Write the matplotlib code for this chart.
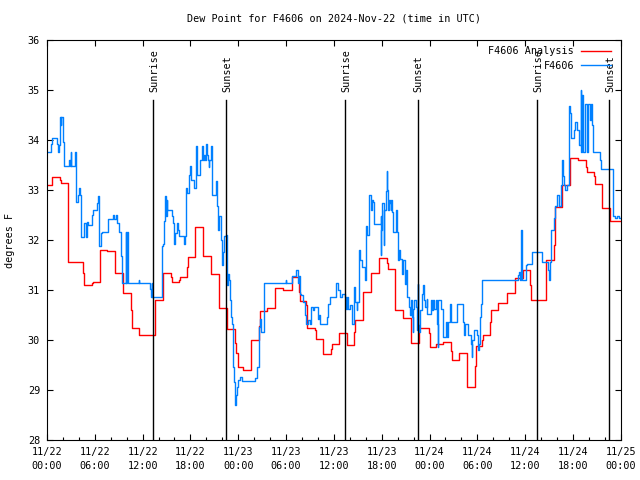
import matplotlib
matplotlib.use('Agg')
import matplotlib.pyplot as plt
import numpy as np

# hours since 2024-11-22 00:00 UTC
analysis_t = [0.0, 0.67, 1.63, 1.72, 2.6, 2.67, 4.56, 4.68, 5.6, 5.73, 6.6, 6.68, 7.57, 8.57, 9.54,
              10.58, 10.66, 11.58, 13.55, 14.5, 15.6, 15.7, 16.6, 16.7, 17.6, 17.7, 18.55, 18.6,
              19.55, 19.6, 20.55, 20.6, 21.55, 21.6, 22.55, 22.6, 23.55, 23.6, 23.75, 24.0, 24.6,
              25.55, 25.6, 26.65, 26.7, 27.65, 28.6, 29.6, 30.74, 31.66, 31.75, 32.5, 32.58, 33.63,
              33.71, 34.67, 35.64, 35.8, 36.68, 37.6, 38.56, 38.65, 39.61, 40.66, 41.65, 42.7, 42.8,
              43.7, 44.7, 45.7, 46.7, 47.9, 48.0, 48.85, 49.7, 50.75, 50.8, 51.65, 52.7, 52.75,
              53.66, 53.78, 54.62, 54.7, 55.62, 55.71, 56.63, 57.67, 58.72, 59.68, 60.6, 60.73,
              62.61, 63.61, 63.7, 64.61, 65.62, 66.6, 67.6, 67.8, 68.7, 68.8, 69.7, 70.7, 71.9]
analysis_v = [33.09, 33.25, 33.2, 33.13, 32.35, 31.57, 31.35, 31.1, 31.15, 31.17, 31.51, 31.81, 31.79,
              31.35, 30.95, 30.6, 30.25, 30.11, 30.81, 31.35, 31.27, 31.17, 31.2, 31.27, 31.47,
              31.66, 31.95, 32.25, 31.95, 31.68, 31.5, 31.32, 30.98, 30.65, 30.43, 30.23, 30.14,
              29.94, 29.74, 29.47, 29.41, 29.69, 30.0, 30.28, 30.58, 30.65, 31.05, 31.01, 31.27,
              30.97, 30.79, 30.7, 30.25, 30.2, 30.03, 29.73, 29.83, 29.93, 30.15, 29.9, 30.17,
              30.4, 30.97, 31.35, 31.65, 31.55, 31.42, 30.61, 30.45, 29.95, 30.25, 30.15, 29.86,
              29.93, 29.97, 29.79, 29.61, 29.75, 29.43, 29.07, 29.48, 29.88, 30.0, 30.11, 30.37,
              30.61, 30.75, 30.95, 31.25, 31.4, 31.1, 30.81, 31.6, 31.9, 32.65, 33.1, 33.64, 33.6,
              33.45, 33.36, 33.27, 33.11, 32.64, 32.37, 32.37]

station_t = [0.0, 0.46, 0.59, 1.21, 1.34, 1.5, 1.63, 1.7, 1.8, 1.97, 2.05, 2.13, 2.8, 2.85, 2.97, 3.05,
             3.51, 3.64, 3.93, 4.06, 4.15, 4.22, 4.31, 4.69, 4.89, 4.98, 5.1, 5.6, 5.81, 6.23, 6.44,
             6.48, 6.73, 6.9, 7.65, 8.3, 8.4, 8.6, 8.74, 9.03, 9.28, 9.41, 9.91, 9.95, 10.05, 10.16,
             11.54, 11.6, 12.92, 13.05, 13.13, 13.2, 14.39, 14.5, 14.72, 14.85, 14.93, 15.0, 15.1,
             15.72, 15.85, 15.98, 16.1, 16.27, 16.4, 16.6, 17.23, 17.36, 17.44, 17.52, 17.86, 17.94,
             18.03, 18.44, 18.65, 18.78, 18.86, 19.24, 19.41, 19.53, 19.7, 19.82, 19.95, 20.08,
             20.2, 20.28, 20.37, 20.58, 20.66, 20.74, 21.2, 21.29, 21.41, 21.5, 21.62, 21.87, 22.0,
             22.12, 22.25, 22.42, 22.54, 22.75, 22.84, 22.96, 23.09, 23.21, 23.38, 23.51, 23.63,
             23.71, 23.88, 24.01, 24.22, 24.47, 26.14, 26.39, 26.56, 26.65, 26.73, 26.85, 27.23,
             30.0, 30.05, 30.78, 31.2, 31.53, 31.66, 31.74, 31.9, 32.16, 32.41, 32.5, 32.79, 33.0,
             33.12, 33.4, 33.5, 34.04, 34.17, 34.29, 35.09, 35.3, 35.51, 36.26, 36.55, 36.76,
             36.97, 37.4, 37.52, 37.68, 37.81, 38.02, 38.23, 38.56, 38.69, 38.86, 38.94, 39.11,
             39.3, 39.48, 39.9, 40.03, 40.2, 40.4, 40.65, 40.74, 40.95, 41.03, 41.87, 41.91, 41.97,
             42.08, 42.29, 42.33, 42.5, 42.62, 42.7, 42.83, 42.96, 43.04, 43.12, 43.21, 43.29,
             43.37, 43.75, 43.88, 44.0, 44.13, 44.29, 44.5, 44.63, 44.88, 44.96, 45.05, 45.13,
             45.46, 45.55, 45.63, 45.76, 45.88, 45.97, 46.09, 46.3, 46.39, 46.51, 46.59, 46.72,
             46.8, 47.01, 47.22, 47.35, 47.43, 47.64, 47.72, 48.14, 48.31, 48.48, 48.6, 48.77,
             48.89, 49.02, 49.1, 49.44, 49.65, 49.73, 50.07, 50.23, 50.32, 50.57, 50.69, 51.49,
             52.16, 52.32, 52.45, 52.83, 53.16, 53.29, 53.37, 53.58, 54.0, 54.12, 54.25, 54.33,
             54.46, 54.58, 54.75, 58.85, 59.14, 59.26, 59.35, 59.43, 59.52, 59.64, 60.1, 60.2,
             60.81, 62.15, 62.82, 62.99, 63.11, 63.2, 63.61, 63.74, 64.03, 64.2, 64.28, 64.45,
             64.58, 64.7, 64.79, 64.91, 65.04, 65.2, 65.45, 65.54, 65.62, 65.71, 65.75, 66.17,
             66.25, 66.54, 66.71, 66.79, 66.96, 67.04, 67.13, 67.21, 67.3, 67.55, 67.8, 67.92,
             68.13, 68.26, 68.42, 68.55, 69.39, 69.47, 70.98, 71.27, 71.48, 71.8, 72.0]
station_v = [33.76, 33.91, 34.03, 33.91, 33.76, 33.9, 34.45, 34.3, 34.45, 34.2, 33.95, 33.48, 33.6,
             33.48, 33.75, 33.48, 33.75, 32.75, 32.9, 33.03, 32.9, 32.53, 32.05, 32.33, 32.05,
             32.35, 32.3, 32.5, 32.6, 32.73, 32.88, 31.88, 32.13, 32.15, 32.42, 32.5, 32.42, 32.5,
             32.33, 32.15, 31.69, 31.15, 32.15, 31.15, 32.15, 31.15, 31.2, 31.15, 31.02, 30.87,
             31.15, 30.87, 31.89, 31.92, 32.37, 32.87, 32.47, 32.8, 32.59, 32.47, 32.33, 31.93,
             32.13, 32.33, 32.2, 32.07, 31.93, 32.07, 33.03, 32.93, 33.29, 33.47, 33.2, 33.03,
             33.87, 33.47, 33.3, 33.59, 33.87, 33.59, 33.7, 33.59, 33.92, 33.7, 33.59, 33.45,
             33.59, 33.87, 33.4, 32.9, 33.17, 32.68, 32.47, 32.2, 32.47, 32.0, 31.5, 31.77, 32.07,
             32.1, 31.1, 31.33, 31.2, 30.8, 30.47, 30.33, 29.47, 29.17, 28.7, 28.9, 29.07, 29.2,
             29.27, 29.18, 29.25, 29.47, 30.0, 30.27, 30.43, 30.17, 31.15, 31.2, 31.15, 31.28,
             31.41, 31.15, 31.28, 30.93, 30.9, 30.77, 30.5, 30.33, 30.4, 30.33, 30.67, 30.6, 30.67,
             30.42, 30.5, 30.33, 30.47, 30.73, 30.87, 31.15, 31.0, 30.87, 30.93, 30.87, 30.63,
             30.87, 30.63, 30.7, 30.33, 31.07, 30.77, 30.6, 30.77, 31.8, 31.6, 31.47, 31.2, 32.27,
             32.1, 32.9, 32.6, 32.8, 32.75, 32.32, 32.47, 31.7, 32.2, 32.73, 31.9, 32.6, 32.97,
             33.37, 33.0, 32.6, 32.8, 32.73, 32.6, 32.8, 32.55, 32.15, 32.6, 32.15, 31.6, 31.8,
             31.63, 31.33, 31.6, 31.6, 31.13, 31.4, 30.87, 30.67, 30.5, 30.8, 30.47, 30.17, 30.63,
             30.8, 30.67, 30.2, 31.13, 30.3, 30.17, 30.6, 30.93, 31.1, 30.8, 30.67, 30.83, 30.53,
             30.8, 30.6, 30.8, 30.62, 30.8, 30.33, 29.87, 30.8, 30.62, 30.33, 30.07, 30.37, 30.07,
             30.37, 30.73, 30.37, 30.73, 30.37, 30.1, 30.33, 30.1, 29.93, 29.67, 30.0, 30.2, 30.1,
             29.8, 29.93, 30.47, 30.73, 31.2, 31.21, 31.21, 31.3, 31.36, 31.21, 31.73, 32.2, 31.21,
             31.5, 31.52, 31.77, 31.57, 31.4, 31.2, 31.57, 32.2, 32.43, 32.67, 32.9, 32.9, 32.67,
             33.1, 33.6, 33.47, 33.27, 33.1, 33.0, 33.1, 34.33, 34.67, 34.53, 34.33, 34.03, 34.2,
             34.35, 34.2, 34.03, 33.9, 35.0, 33.75, 34.9, 34.75, 33.75, 34.72, 33.75, 34.72, 34.4,
             34.72, 34.3, 33.75, 33.6, 33.41, 32.47, 32.43, 32.47, 32.43, 32.43]

sun_t = [13.35, 22.5, 37.45, 46.5, 61.5, 70.55]
sun_lbl = ['Sunrise', 'Sunset', 'Sunrise', 'Sunset', 'Sunrise', 'Sunset']

xticks = np.arange(0, 73, 6)
xlabels = ['11/22\n00:00', '11/22\n06:00', '11/22\n12:00', '11/22\n18:00',
           '11/23\n00:00', '11/23\n06:00', '11/23\n12:00', '11/23\n18:00',
           '11/24\n00:00', '11/24\n06:00', '11/24\n12:00', '11/24\n18:00',
           '11/25\n00:00']

plt.rcParams['font.family'] = 'DejaVu Sans Mono'
plt.rcParams['font.size'] = 7.3

fig = plt.figure(figsize=(6.4, 4.8), dpi=100)
ax = fig.add_axes([0.0734, 0.0833, 0.8966, 0.8334])

ax.step(analysis_t, analysis_v, where='post', color='#ff0000', lw=1.0, label='F4606 Analysis')
ax.step(station_t, station_v, where='post', color='#0080ff', lw=1.0, label='F4606')

for t, s in zip(sun_t, sun_lbl):
    ax.plot([t, t], [28, 34.8], color='k', lw=1.0)
    ax.text(t + 0.15, 34.95, s, rotation=90, ha='center', va='bottom')

ax.set_xlim(0, 72)
ax.set_ylim(28, 36)
ax.set_xticks(xticks)
ax.set_xticklabels(xlabels, linespacing=1.5)
ax.set_xticks(np.arange(0, 73, 2), minor=True)
ax.set_yticks(np.arange(28, 37, 1))
ax.tick_params(direction='in', length=4, width=0.8, top=True, right=True, pad=5)
ax.tick_params(which='minor', direction='in', length=2, width=0.8, top=False)
ax.set_ylabel('degrees F')
ax.yaxis.set_label_coords(-0.056, 0.5)
ax.set_title('Dew Point for F4606 on 2024-Nov-22 (time in UTC)', fontsize=7.3, pad=13)
ax.legend(loc='upper right', bbox_to_anchor=(0.993, 1.0), frameon=False, markerfirst=False,
          handlelength=2.9, borderaxespad=0.2, labelspacing=0.45, handletextpad=0.7)

plt.savefig('out.png')
